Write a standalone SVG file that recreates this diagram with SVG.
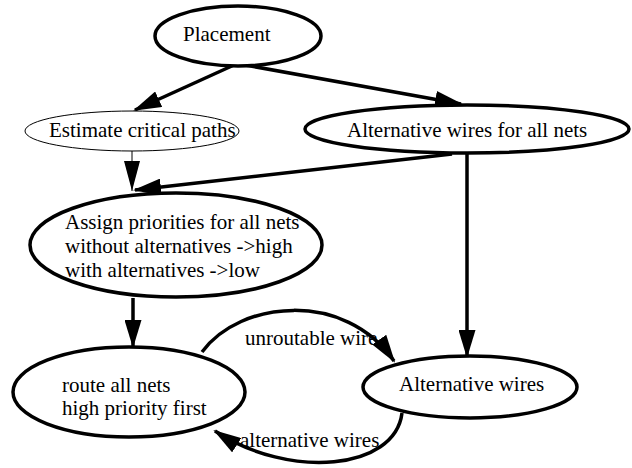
<svg xmlns="http://www.w3.org/2000/svg" width="632" height="468" viewBox="0 0 632 468">
<style>
.n{fill:#fff;stroke:#000;stroke-width:3.5}
.thin{stroke-width:1}
.t{font-family:'Liberation Serif','DejaVu Serif','Noto Serif',serif;font-size:21px;fill:#000}
.e{fill:none;stroke:#000;stroke-width:3.5}
</style>
<defs>
<marker id="ah" viewBox="0 0 28 17" refX="26" refY="8.5" markerWidth="28" markerHeight="17" markerUnits="userSpaceOnUse" orient="auto">
<path d="M0,0 L28,8.5 L0,17 Z" fill="#000"/>
</marker>
<marker id="ah2" viewBox="0 0 30 16" refX="30" refY="8" markerWidth="30" markerHeight="16" markerUnits="userSpaceOnUse" orient="auto">
<path d="M0,0 L30,8 L0,16 Z" fill="#000"/>
</marker>
</defs>
<rect width="632" height="468" fill="#fff"/>
<g id="edges">
<line class="e" x1="234" y1="65" x2="135" y2="110" marker-end="url(#ah)"/>
<line class="e" x1="245" y1="65" x2="461" y2="104" marker-end="url(#ah)"/>
<line class="e" x1="452" y1="154" x2="135" y2="190" marker-end="url(#ah)"/>
<line fill="none" stroke="#000" stroke-width="1" x1="132" y1="151" x2="132" y2="191" marker-end="url(#ah2)"/>
<line class="e" x1="467" y1="153" x2="467" y2="356" marker-end="url(#ah)"/>
<line class="e" x1="133" y1="298" x2="133" y2="346" marker-end="url(#ah)"/>
<path class="e" d="M202,352 C240,300 345,290 394,361" marker-end="url(#ah)"/>
<path class="e" d="M402,413 C395,470 290,480 215,431" marker-end="url(#ah)"/>
<text class="t" x="245" y="345">unroutable wire</text>
<text class="t" x="240" y="447">alternative wires</text>
</g>
<g id="placement">
<ellipse class="n" cx="238" cy="36" rx="83" ry="30"/>
<text class="t" x="183" y="41">Placement</text>
</g>
<g id="estimate">
<ellipse class="n thin" cx="132" cy="131" rx="107" ry="20"/>
<text class="t" x="49" y="137">Estimate critical paths</text>
</g>
<g id="altall">
<ellipse class="n" cx="467" cy="129" rx="162" ry="24"/>
<text class="t" x="347" y="137">Alternative wires for all nets</text>
</g>
<g id="assign">
<ellipse class="n" cx="176" cy="245" rx="146" ry="52"/>
<text class="t" x="65" y="229">Assign priorities for all nets</text>
<text class="t" x="65" y="253">without alternatives -&gt;high</text>
<text class="t" x="65" y="277">with alternatives -&gt;low</text>
</g>
<g id="route">
<ellipse class="n" cx="129" cy="392" rx="116" ry="45"/>
<text class="t" x="62" y="392">route all nets</text>
<text class="t" x="62" y="415">high priority first</text>
</g>
<g id="altwires">
<ellipse class="n" cx="470" cy="387" rx="107" ry="31"/>
<text class="t" x="399" y="391">Alternative wires</text>
</g>
</svg>
